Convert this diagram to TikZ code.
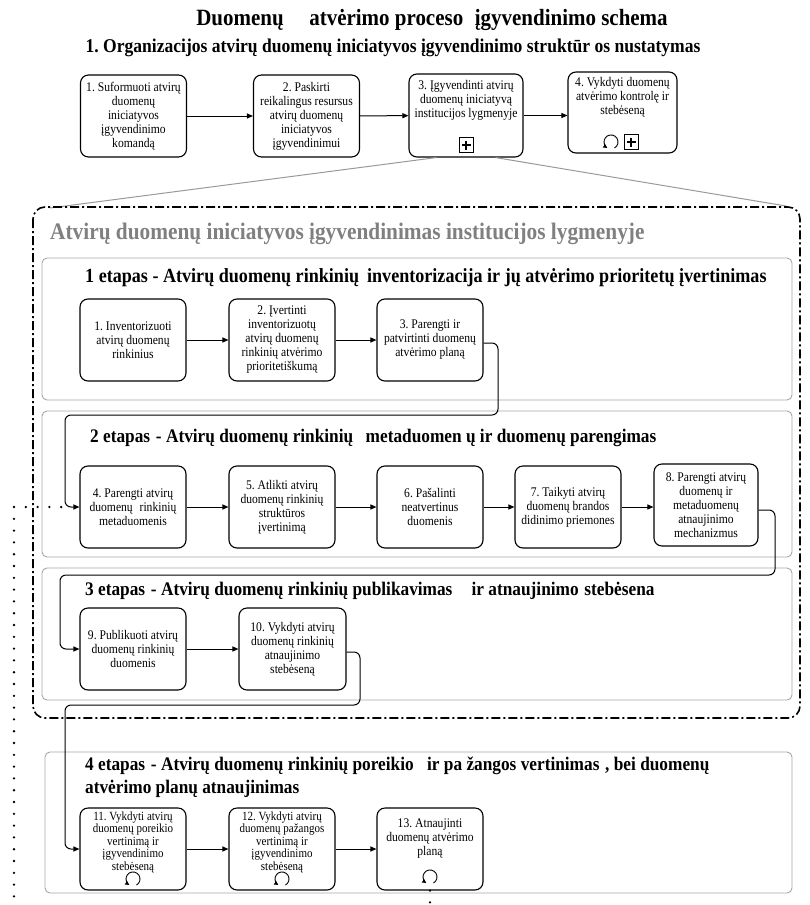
\documentclass[tikz,border=0pt]{standalone}
\usepackage{fontspec}
\setmainfont{Liberation Serif}
\newfontfamily\boxfont[FakeStretch=0.88]{Liberation Serif}
\newfontfamily\headfont[FakeStretch=0.9]{Liberation Serif}
\usetikzlibrary{arrows.meta,calc}
\frenchspacing
\newcommand\loopicon[1]{\draw[line width=0.9pt,-{Triangle[length=4pt,width=4pt]}] ($(#1)+(3.5,6)$) arc[start angle=-60,end angle=238,radius=7pt];}
\newcommand\plusicon[1]{\draw[line width=0.9pt] ($(#1)+(-7,-7.5)$) rectangle ($(#1)+(7,7.5)$);
  \draw[line width=1.4pt] ($(#1)+(-4.5,0)$) -- ($(#1)+(4.5,0)$) ($(#1)+(0,-4.5)$) -- ($(#1)+(0,4.5)$);}
\begin{document}
\begin{tikzpicture}[x=1pt,y=-1pt,
  task/.style={draw, line width=1.1pt, rounded corners=8pt, minimum width=106pt, minimum height=82pt,
    inner sep=1pt, align=center, font=\boxfont\fontsize{13.2}{14}\selectfont},
  smalltask/.style={task, font=\boxfont\fontsize{12.5}{12.5}\selectfont},
  stagebox/.style={draw=black!35, line width=0.9pt, rounded corners=5pt},
  arr/.style={-{Triangle[length=6pt,width=5pt]}, line width=1pt},
  flow/.style={arr, rounded corners=6pt},
  dotline/.style={line width=2.6pt, line cap=round, dash pattern=on 0pt off 11.8pt},
  headline/.style={font=\headfont\bfseries\fontsize{19.2}{23}\selectfont, anchor=west, inner sep=0pt},
  ]
\useasboundingbox (0,0) rectangle (810,905);
\clip (0,0) rectangle (810,905);

% titles
\node[font=\headfont\bfseries\fontsize{23.3}{26}\selectfont, inner sep=0pt] (title) at (432,20)
  {Duomenų\hspace{1.1em}atvėrimo proceso\hspace{0.5em}įgyvendinimo schema};
\node[font=\headfont\bfseries\fontsize{19.5}{23}\selectfont, inner sep=0pt] (sub) at (393,48)
  {1. Organizacijos atvirų duomenų iniciatyvos įgyvendinimo struktūr os nustatymas};

% top row
\node[task] (t1) at (133.5,116) {1. Suformuoti atvirų\\duomenų\\iniciatyvos\\įgyvendinimo\\komandą};
\node[task] (t2) at (306.5,116) {2. Paskirti\\reikalingus resursus\\atvirų duomenų\\iniciatyvos\\įgyvendinimui};
\node[task, minimum width=114pt, minimum height=83pt] (t3) at (466,115.5) {3. Įgyvendinti atvirų\\duomenų iniciatyvą\\institucijos lygmenyje\\\rule{0pt}{30pt}};
\node[task, minimum width=109pt, minimum height=81pt] (t4) at (622.5,112.5) {4. Vykdyti duomenų\\atvėrimo kontrolę ir\\stebėseną\\\rule{0pt}{30pt}};
\draw[arr] (t1) -- (t2);
\draw[arr] (t2) -- (t3);
\draw[arr] (t3.east) -- (t3.east -| t4.west);
\plusicon{466,145}
\loopicon{611,142}
\plusicon{631,142}

% expansion lines
\coordinate (eL) at (50,208);
\coordinate (eR) at (786,206);
\draw[black!40, line width=1pt] ($(t3.south west)+(28,0)$) -- (eL);
\draw[black!40, line width=1pt] ($(t3.south east)+(-28,0)$) -- (eR);

% dash-dot group
\draw[line width=1.6pt, rounded corners=12pt, dash pattern=on 9pt off 3pt on 2pt off 3pt] (33,207) rectangle (800,718);
\node[font=\headfont\bfseries\fontsize{23.7}{27}\selectfont, text=black!50, anchor=west, inner sep=0pt] (gtitle) at (50,234)
  {Atvirų duomenų iniciatyvos įgyvendinimas institucijos lygmenyje};

% stage boxes
\draw[stagebox] (42,258) rectangle (792,400);
\draw[stagebox] (42,411) rectangle (792,557);
\draw[stagebox] (42,568) rectangle (792,700);
\draw[stagebox] (45,752) rectangle (792,893);

\node[headline, font=\headfont\bfseries\fontsize{20.1}{23}\selectfont] (h1) at (85,278) {1 etapas - Atvirų duomenų rinkinių\hspace{0.4em}inventorizacija ir jų atvėrimo prioritetų įvertinimas};
\node[headline] (h2) at (90,438) {2 etapas\hspace{0.3em}- Atvirų duomenų rinkinių\hspace{0.65em}metaduomen ų ir duomenų parengimas};
\node[headline] (h3) at (85,591) {3 etapas\hspace{0.3em}- Atvirų duomenų rinkinių publikavimas\hspace{1.0em}ir atnaujinimo\hspace{0.3em}stebėsena};
\node[headline, align=left] (h4) at (85,777) {4 etapas\hspace{0.3em}- Atvirų duomenų rinkinių poreikio\hspace{0.7em}ir pa žangos vertinimas\hspace{0.3em}, bei duomenų\\atvėrimo planų atnaujinimas};

% stage 1
\node[task] (a1) at (133,340) {1. Inventorizuoti\\atvirų duomenų\\rinkinius};
\node[task] (a2) at (282,340) {2. Įvertinti\\inventorizuotų\\atvirų duomenų\\rinkinių atvėrimo\\prioritetiškumą};
\node[task] (a3) at (430,340) {3. Parengti ir\\patvirtinti duomenų\\atvėrimo planą};
\draw[arr] (a1) -- (a2);
\draw[arr] (a2) -- (a3);

% stage 2
\node[task] (a4) at (133,507) {4. Parengti atvirų\\duomenų\hspace{0.3em} rinkinių\\metaduomenis};
\node[task] (a5) at (282,507) {5. Atlikti atvirų\\duomenų rinkinių\\struktūros\\įvertinimą};
\node[task] (a6) at (430,507) {6. Pašalinti\\neatvertinus\\duomenis};
\node[task] (a7) at (568,507) {7. Taikyti atvirų\\duomenų brandos\\didinimo priemones};
\node[task, minimum width=104pt] (a8) at (706,505) {8. Parengti atvirų\\duomenų ir\\metaduomenų\\atnaujinimo\\mechanizmus};
\draw[arr] (a4) -- (a5);
\draw[arr] (a5) -- (a6);
\draw[arr] (a6) -- (a7);
\draw[arr] (a7.east) -- (a7.east -| a8.west);

% stage 3
\node[task] (a9) at (133,649) {9. Publikuoti atvirų\\duomenų rinkinių\\duomenis};
\node[task, minimum width=107pt] (a10) at (292.5,649) {10. Vykdyti atvirų\\duomenų rinkinių\\atnaujinimo\\stebėseną};
\draw[arr] (a9) -- (a10);

% stage 4
\node[smalltask] (a11) at (133,849) {11. Vykdyti atvirų\\duomenų poreikio\\vertinimą ir\\įgyvendinimo\\stebėseną\\\rule{0pt}{13pt}};
\node[smalltask] (a12) at (282,849) {12. Vykdyti atvirų\\duomenų pažangos\\vertinimą ir\\įgyvendinimo\\stebėseną\\\rule{0pt}{13pt}};
\node[task] (a13) at (430,849) {13. Atnaujinti\\duomenų atvėrimo\\planą\\\rule{0pt}{20pt}};
\draw[arr] (a11) -- (a12);
\draw[arr] (a12) -- (a13);
\loopicon{133,879}
\loopicon{282,879}
\loopicon{430,877}

% stage connectors
\draw[flow] ($(a3.east)+(0,3)$) -- (498,343) -- (498,415) -- (65,415) -- (65,507) -- (a4.west);
\draw[flow] ($(a8.east)+(0,5)$) -- (775,510) -- (775,575) -- (60,575) -- (60,649) -- (a9.west);
\draw[flow] ($(a10.east)+(0,3)$) -- (360,652) -- (360,705) -- (65,705) -- (65,849) -- (a11.west);

% dotted association
\coordinate (dB) at (430,920);
\coordinate (dL) at (14,920);
\coordinate (dC) at (14,507);
\coordinate (dE) at (72,507);
\draw[dotline] (a13.south) -- (dB);
\draw[dotline] (dL) -- (dC) -- (dE);
\end{tikzpicture}
\end{document}
